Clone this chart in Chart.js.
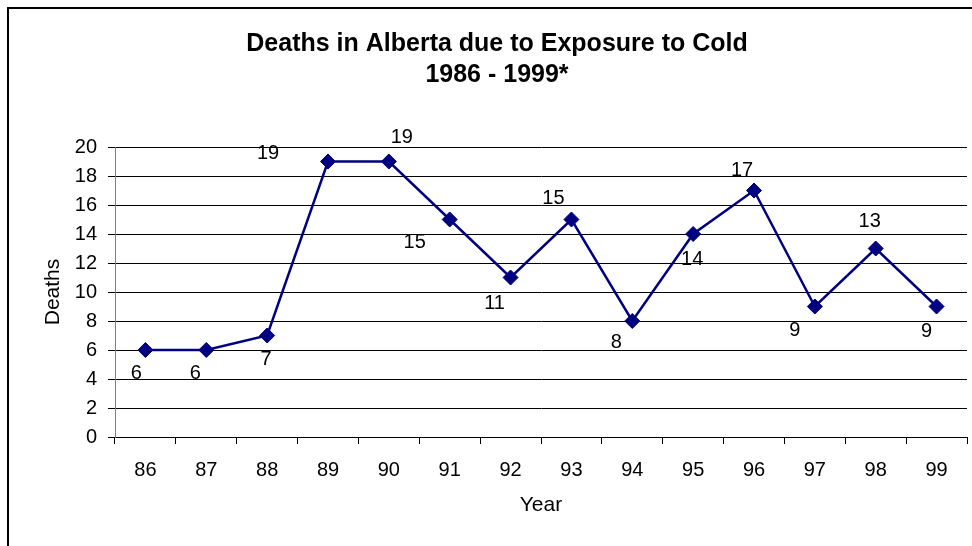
<!DOCTYPE html>
<html>
<head>
<meta charset="utf-8">
<script src="https://cdn.jsdelivr.net/npm/chart.js@4.4.1/dist/chart.umd.min.js"></script>
<style>
  html, body { margin: 0; padding: 0; background: #fff; }
  #wrap { position: relative; width: 972px; height: 546px; }
</style>
</head>
<body>
<div id="wrap"><canvas id="chart" width="972" height="546"></canvas></div>
<script>
  const years = ["86", "87", "88", "89", "90", "91", "92", "93", "94", "95", "96", "97", "98", "99"];
  const deaths = [6, 6, 7, 19, 19, 15, 11, 15, 8, 14, 17, 9, 13, 9];
  const titleLines = ["Deaths in Alberta due to Exposure to Cold", "1986 - 1999*"];

  // hand-placed data label offsets (px from the marker), as in the original
  const labelOffsets = [
    [-9, 23], [-11, 23], [-1, 24], [-60, -8], [13, -24], [-35, 23], [-16, 26],
    [-18, -21], [-16, 21], [-1, 25], [-12, -20], [-20, 24], [-6, -27], [-10, 25]
  ];

  const FONT = "'Liberation Sans', Arial, sans-serif";
  const NAVY = "#000080";

  const frame = {
    id: "frame",
    beforeDraw(chart) {
      const ctx = chart.ctx;
      ctx.save();
      ctx.fillStyle = "#fff";
      ctx.fillRect(0, 0, chart.width, chart.height);
      ctx.fillStyle = "#000";
      ctx.fillRect(7, 7, 2, chart.height - 7);
      ctx.fillRect(7, 7, chart.width - 7, 2);
      ctx.restore();
    }
  };

  const pointLabels = {
    id: "pointLabels",
    afterDatasetsDraw(chart) {
      const ctx = chart.ctx;
      const meta = chart.getDatasetMeta(0);
      ctx.save();
      ctx.font = "20px " + FONT;
      ctx.fillStyle = "#000";
      ctx.textAlign = "center";
      ctx.textBaseline = "middle";
      meta.data.forEach((pt, i) => {
        const [dx, dy] = labelOffsets[i] || [0, -20];
        ctx.fillText(String(deaths[i]), pt.x + dx, pt.y + dy);
      });
      ctx.restore();
    }
  };

  new Chart(document.getElementById("chart"), {
    type: "line",
    data: {
      labels: years,
      datasets: [{
        label: "Deaths",
        data: deaths,
        borderColor: NAVY,
        backgroundColor: NAVY,
        borderWidth: 2.5,
        pointStyle: "rectRot",
        pointRadius: 7.5,
        pointHoverRadius: 7.5,
        pointBorderWidth: 1,
        pointBorderColor: NAVY,
        pointBackgroundColor: NAVY,
        tension: 0
      }]
    },
    options: {
      responsive: false,
      animation: false,
      devicePixelRatio: 1,
      layout: { autoPadding: false, padding: { left: 27, right: 5, top: 0, bottom: 0 } },
      plugins: {
        legend: { display: false },
        tooltip: { enabled: false },
        title: {
          display: true,
          text: titleLines,
          color: "#000",
          font: { family: FONT, size: 25, weight: "bold", lineHeight: 1.24 },
          padding: { top: 29, bottom: 56 }
        }
      },
      scales: {
        x: {
          offset: true,
          grid: { offset: true, drawOnChartArea: false, drawTicks: true, tickLength: 7, color: "#000", tickColor: "#000" },
          border: { color: "#000", width: 1 },
          ticks: { color: "#000", font: { family: FONT, size: 20 }, padding: 14, maxRotation: 0, autoSkip: false },
          title: { display: true, text: "Year", color: "#000", font: { family: FONT, size: 21 }, padding: { top: 0, bottom: 28 } },
          afterFit(scale) {
            scale.height = 109;
            scale.paddingLeft = 0;
            scale.paddingRight = 0;
          }
        },
        y: {
          min: 0,
          max: 20,
          grid: { color: "#000", tickLength: 7, tickColor: "#000" },
          border: { color: "#808080", width: 1 },
          ticks: { stepSize: 2, color: "#000", font: { family: FONT, size: 20 }, padding: 11 },
          title: { display: true, text: "Deaths", color: "#000", font: { family: FONT, size: 21 }, padding: { top: 14, bottom: 0 } },
          afterFit(scale) { scale.width = 88; }
        }
      }
    },
    plugins: [frame, pointLabels]
  });
</script>
</body>
</html>
